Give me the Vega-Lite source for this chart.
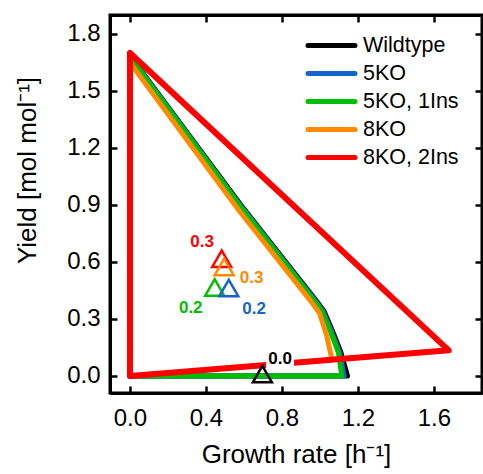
{
  "$schema": "https://vega.github.io/schema/vega-lite/v6.json",
  "width": 372,
  "height": 378,
  "autosize": {"type": "none"},
  "padding": {"left": 110, "top": 15, "right": 1, "bottom": 81},
  "config": {
    "font": "Liberation Sans",
    "view": {"stroke": "black", "strokeWidth": 3},
    "axis": {
      "grid": false,
      "domainColor": "black",
      "domainWidth": 3,
      "tickColor": "black",
      "tickWidth": 2.5,
      "tickSize": -7,
      "labelFontSize": 24,
      "labelColor": "black",
      "labelOverlap": false,
      "labelFlush": false,
      "titleFontSize": 26,
      "titleFontWeight": "normal",
      "titleColor": "black"
    }
  },
  "datasets": {
    "lines": [
      {"series": "Wildtype", "i": 0, "x": 0, "y": 1.687},
      {"series": "Wildtype", "i": 1, "x": 0.58, "y": 0.905},
      {"series": "Wildtype", "i": 2, "x": 0.976, "y": 0.403},
      {"series": "Wildtype", "i": 3, "x": 1.021, "y": 0.342},
      {"series": "Wildtype", "i": 4, "x": 1.066, "y": 0.237},
      {"series": "Wildtype", "i": 5, "x": 1.11, "y": 0.126},
      {"series": "Wildtype", "i": 6, "x": 1.145, "y": 0},
      {"series": "Wildtype", "i": 7, "x": 0, "y": 0},
      {"series": "Wildtype", "i": 8, "x": 0, "y": 1.687},
      {"series": "5KO", "i": 0, "x": 0, "y": 1.684},
      {"series": "5KO", "i": 1, "x": 0.578, "y": 0.902},
      {"series": "5KO", "i": 2, "x": 0.972, "y": 0.401},
      {"series": "5KO", "i": 3, "x": 1.016, "y": 0.341},
      {"series": "5KO", "i": 4, "x": 1.06, "y": 0.236},
      {"series": "5KO", "i": 5, "x": 1.103, "y": 0.125},
      {"series": "5KO", "i": 6, "x": 1.128, "y": 0},
      {"series": "5KO", "i": 7, "x": 0, "y": 0},
      {"series": "5KO", "i": 8, "x": 0, "y": 1.684},
      {"series": "5KO, 1Ins", "i": 0, "x": 0, "y": 1.68},
      {"series": "5KO, 1Ins", "i": 1, "x": 0.576, "y": 0.9},
      {"series": "5KO, 1Ins", "i": 2, "x": 0.968, "y": 0.4},
      {"series": "5KO, 1Ins", "i": 3, "x": 1.012, "y": 0.34},
      {"series": "5KO, 1Ins", "i": 4, "x": 1.055, "y": 0.235},
      {"series": "5KO, 1Ins", "i": 5, "x": 1.097, "y": 0.125},
      {"series": "5KO, 1Ins", "i": 6, "x": 1.115, "y": 0},
      {"series": "5KO, 1Ins", "i": 7, "x": 0, "y": 0},
      {"series": "5KO, 1Ins", "i": 8, "x": 0, "y": 1.68},
      {"series": "8KO", "i": 0, "x": 0, "y": 1.65},
      {"series": "8KO", "i": 1, "x": 0.575, "y": 0.87},
      {"series": "8KO", "i": 2, "x": 0.955, "y": 0.39},
      {"series": "8KO", "i": 3, "x": 0.998, "y": 0.33},
      {"series": "8KO", "i": 4, "x": 1.035, "y": 0.215},
      {"series": "8KO", "i": 5, "x": 1.064, "y": 0.085},
      {"series": "8KO, 2Ins", "i": 0, "x": 0, "y": 1.7},
      {"series": "8KO, 2Ins", "i": 1, "x": 0, "y": 0},
      {"series": "8KO, 2Ins", "i": 2, "x": 1.678, "y": 0.135},
      {"series": "8KO, 2Ins", "i": 3, "x": 0, "y": 1.7}
    ],
    "triangles": [
      {"series": "Wildtype", "x": 0.697, "y": 0.01},
      {"series": "8KO, 2Ins", "x": 0.483, "y": 0.617},
      {"series": "5KO, 1Ins", "x": 0.446, "y": 0.466},
      {"series": "5KO", "x": 0.52, "y": 0.463},
      {"series": "8KO", "x": 0.496, "y": 0.574}
    ],
    "labels": [
      {"series": "Wildtype", "label": "0.0", "x": 0.79, "y": 0.09},
      {"series": "8KO, 2Ins", "label": "0.3", "x": 0.38, "y": 0.705},
      {"series": "8KO", "label": "0.3", "x": 0.64, "y": 0.517},
      {"series": "5KO, 1Ins", "label": "0.2", "x": 0.32, "y": 0.358},
      {"series": "5KO", "label": "0.2", "x": 0.653, "y": 0.353}
    ]
  },
  "layer": [
    {
      "encoding": {
        "x": {"field": "x", "type": "quantitative", "title": "Growth rate [h⁻¹]",
              "scale": {"domain": [-0.105, 1.853], "nice": false, "zero": false},
              "axis": {"orient": "bottom", "values": [0, 0.4, 0.8, 1.2, 1.6], "format": ".1f", "labelPadding": 20, "titlePadding": 11}},
        "y": {"field": "y", "type": "quantitative", "title": "Yield [mol mol⁻¹]",
              "scale": {"domain": [-0.0895, 1.9], "nice": false, "zero": false},
              "axis": {"orient": "left", "values": [0, 0.3, 0.6, 0.9, 1.2, 1.5, 1.8], "format": ".1f", "labelPadding": 17, "titlePadding": 26, "titleY": 155}}
      },
      "layer": [
        {
          "data": {"name": "lines"},
          "encoding": {
            "color": {"field": "series", "type": "nominal",
                      "scale": {"domain": ["Wildtype", "5KO", "5KO, 1Ins", "8KO", "8KO, 2Ins"], "range": ["#000000", "#1565c8", "#00bf00", "#ff8a00", "#ff0000"]},
                      "legend": {"orient": "none", "legendX": 209, "legendY": 18, "title": null, "padding": 0,
                                 "labelFontSize": 21.5, "labelColor": "black", "labelOffset": 19, "labelLimit": 300,
                                 "symbolType": "M-2.35,0H2.35", "symbolSize": 400, "symbolStrokeWidth": 5, "rowPadding": 5,
                                 "encode": {"symbols": {"update": {"strokeCap": {"value": "round"}}}}}},
            "order": {"field": "i", "type": "quantitative"}
          },
          "layer": [
            {"transform": [{"filter": "datum.series === 'Wildtype'"}], "mark": {"type": "line", "strokeWidth": 5, "strokeJoin": "round", "strokeCap": "round"}},
            {"transform": [{"filter": "datum.series === '5KO'"}], "mark": {"type": "line", "strokeWidth": 5, "strokeJoin": "round", "strokeCap": "round"}},
            {"transform": [{"filter": "datum.series === '5KO, 1Ins'"}], "mark": {"type": "line", "strokeWidth": 5, "strokeJoin": "round", "strokeCap": "round"}},
            {"transform": [{"filter": "datum.series === '8KO'"}], "mark": {"type": "line", "strokeWidth": 5, "strokeJoin": "round", "strokeCap": "round"}},
            {"transform": [{"filter": "datum.series === '8KO, 2Ins'"}], "mark": {"type": "line", "strokeWidth": 6, "strokeJoin": "round", "strokeCap": "round"}}
          ]
        },
        {
          "data": {"name": "labels"},
          "transform": [{"filter": "datum.label === '0.0'"}],
          "mark": {"type": "point", "shape": "M-1.4,-1H1.4V1H-1.4Z", "size": 400, "filled": true, "fill": "white", "stroke": null, "opacity": 1}
        },
        {
          "data": {"name": "triangles"},
          "mark": {"type": "point", "shape": "triangle-up", "size": 360, "filled": false, "strokeWidth": 2.5, "opacity": 1},
          "encoding": {
            "stroke": {"field": "series", "type": "nominal",
                       "scale": {"domain": ["Wildtype", "5KO", "5KO, 1Ins", "8KO", "8KO, 2Ins"], "range": ["#000000", "#1565c8", "#00bf00", "#ff8a00", "#ff0000"]},
                       "legend": null}
          }
        }
      ]
    },
    {
      "data": {"name": "labels"},
      "mark": {"type": "text", "fontWeight": "bold", "fontSize": 17, "align": "center", "baseline": "middle"},
      "encoding": {
        "x": {"field": "x", "type": "quantitative", "title": null,
              "scale": {"domain": [-0.105, 1.853], "nice": false, "zero": false},
              "axis": {"orient": "top", "values": [0, 0.4, 0.8, 1.2, 1.6], "labels": false, "title": null}},
        "y": {"field": "y", "type": "quantitative", "title": null,
              "scale": {"domain": [-0.0895, 1.9], "nice": false, "zero": false},
              "axis": {"orient": "right", "values": [0, 0.3, 0.6, 0.9, 1.2, 1.5, 1.8], "labels": false, "title": null}},
        "text": {"field": "label"},
        "fill": {"field": "series", "type": "nominal",
                 "scale": {"domain": ["Wildtype", "5KO", "5KO, 1Ins", "8KO", "8KO, 2Ins"], "range": ["#000000", "#1565c8", "#00bf00", "#ff8a00", "#ff0000"]},
                 "legend": null}
      }
    }
  ],
  "resolve": {"scale": {"x": "independent", "y": "independent"}}
}
